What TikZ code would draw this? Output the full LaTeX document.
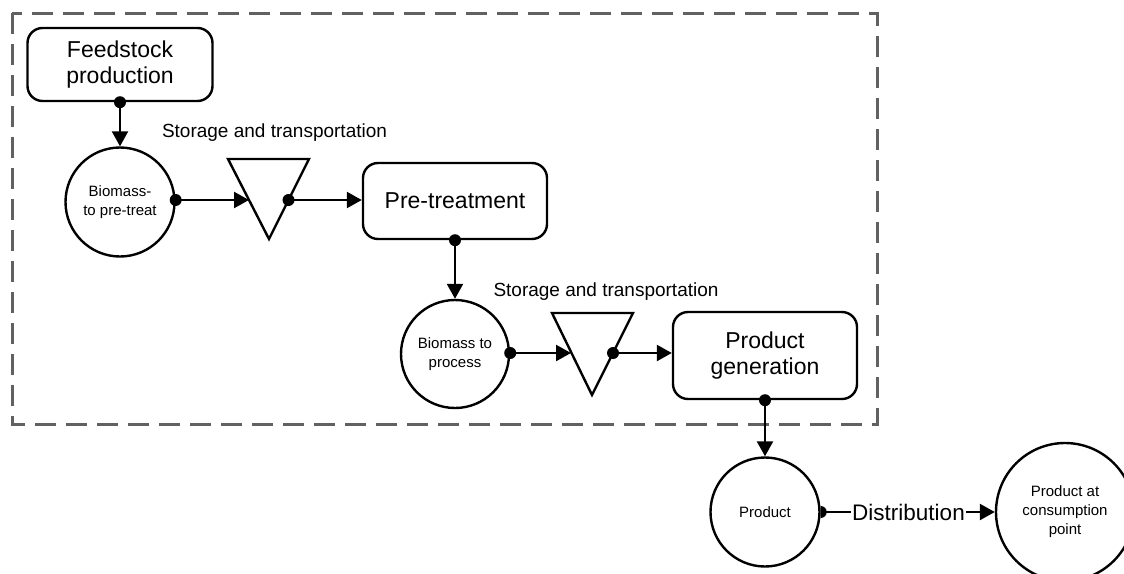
\documentclass[tikz,border=0pt]{standalone}
\usepackage{fontspec}
\setmainfont{Liberation Sans}
\usetikzlibrary{arrows.meta}
\begin{document}
\begin{tikzpicture}[x=1pt,y=-1pt,
  procbox/.style={draw, line width=2.4pt, rounded corners=15pt, align=center,
    font=\fontsize{23}{26}\selectfont, inner sep=0pt},
  stock/.style={draw, circle, line width=2.4pt, align=center, inner sep=0pt,
    font=\fontsize{15}{19}\selectfont},
  flow/.style={line width=2.4pt, -{Triangle[length=15pt,width=16pt]}},
  plainline/.style={line width=2.4pt},
  tank/.style={line width=2.4pt, line join=miter},
  joint/.style={fill=black},
  caption/.style={font=\fontsize{19}{22}\selectfont, anchor=base, inner sep=0pt},
  frame/.style={draw=black!62, line width=3pt, dash pattern=on 21pt off 10pt}
]
\useasboundingbox (0,0) rectangle (1124,573);
\clip (0,0) rectangle (1124,573);

% boundary of the system
\draw[frame] (12,13) rectangle (877,424);

% process boxes
\node[procbox, minimum width=185pt, minimum height=73pt] (feed) at (120,64.5) {Feedstock\\production};
\node[procbox, minimum width=184pt, minimum height=76pt] (pre) at (455,201) {Pre-treatment};
\node[procbox, minimum width=184pt, minimum height=87pt] (gen) at (765,355.5) {Product\\generation};

% material stocks
\node[stock, minimum size=109pt] (bio1) at (120,202) {Biomass-\\to pre-treat};
\node[stock, minimum size=108pt] (bio2) at (455,354) {Biomass to\\process};
\node[stock, minimum size=109pt] (prod) at (765,512) {Product};
\node[stock, minimum size=138pt] (cons) at (1065,512) {Product at\\consumption\\point};

% storage and transportation triangles
\draw[tank] (228,159) -- (309,159) -- (269,239) -- cycle;
\coordinate (t1in) at (249,200);
\coordinate (t1out) at (288.5,200);
\draw[tank] (552,313) -- (633,313) -- (592,395) -- cycle;
\coordinate (t2in) at (571,353);
\coordinate (t2out) at (613,353);

\node[caption] (cap1) at (274.5,137) {Storage and transportation};
\node[caption] (cap2) at (606,296) {Storage and transportation};

% connectors
\draw[flow] (feed.south) -- (bio1.north);
\fill[joint] (feed.south) circle (6pt);

\draw[flow] (bio1.east |- t1in) -- (t1in);
\fill[joint] (bio1.east |- t1in) circle (6pt);

\draw[flow] (t1out) -- (pre.west |- t1out);
\fill[joint] (t1out) circle (6pt);

\draw[flow] (pre.south) -- (bio2.north);
\fill[joint] (pre.south) circle (6pt);

\draw[flow] (bio2.east |- t2in) -- (t2in);
\fill[joint] (bio2.east |- t2in) circle (6pt);

\draw[flow] (t2out) -- (gen.west |- t2out);
\fill[joint] (t2out) circle (6pt);

\draw[flow] (gen.south) -- (prod.north);
\fill[joint] (gen.south) circle (6pt);

% distribution
\node[font=\fontsize{22.5}{26}\selectfont, inner sep=1pt] (dist) at (908.5,512) {Distribution};
\draw[plainline] (prod.east) -- (dist.west);
\draw[flow] (dist.east) -- (cons.west);
\begin{scope}
  \clip (prod.east) ++(0,-7) rectangle ++(8,14);
  \fill[joint] (prod.east) circle (6pt);
\end{scope}
\end{tikzpicture}
\end{document}
